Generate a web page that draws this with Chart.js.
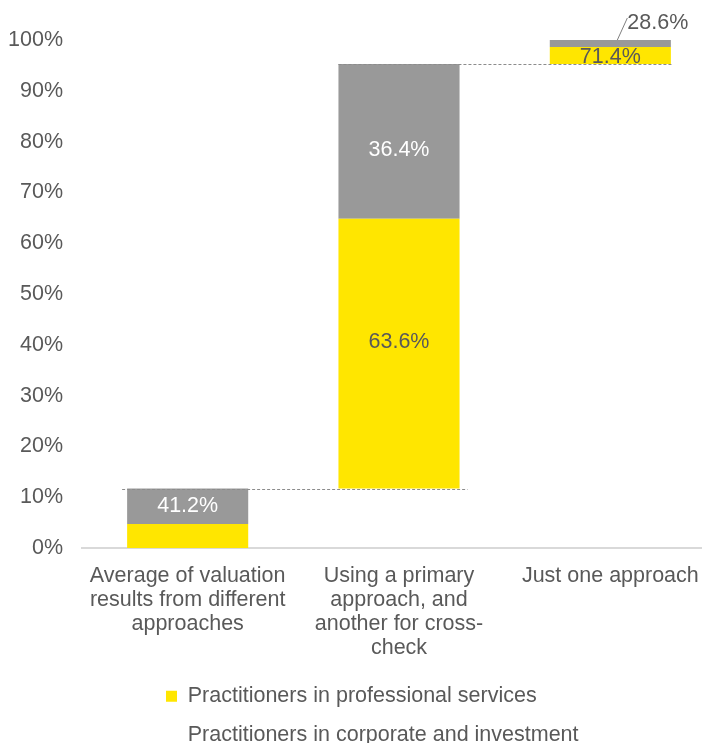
<!DOCTYPE html>
<html>
<head>
<meta charset="utf-8">
<script src="https://cdn.jsdelivr.net/npm/chart.js@4.4.1/dist/chart.umd.min.js"></script>
<style>
  html, body { margin: 0; padding: 0; overflow: hidden; background: #fff; }
  #wrap { width: 716px; height: 756px; }
</style>
</head>
<body>
<div id="wrap"><canvas id="chart"></canvas></div>
<script>
const categories = [
  ["Average of valuation", "results from different", "approaches"],
  ["Using a primary", "approach, and", "another for cross-", "check"],
  ["Just one approach"]
];
const seriesNames = ["Practitioners in professional services", "Practitioners in corporate and investment"];
// floating segments [from, to] in % of the axis
const professionalRanges = [[0, 4.7], [11.7, 64.8], [95.3, 98.6]];
const corporateRanges = [[4.7, 11.7], [64.8, 95.3], [98.6, 100]];
const professionalLabels = ["", "63.6%", "71.4%"];
const corporateLabels = ["41.2%", "36.4%", "28.6%"];
const yMax = 100;
const yStep = 10;

const FONT = '"Liberation Sans", Arial, sans-serif';
const SIZE = 21.5;
const TEXT = "#595959";
const YELLOW = "#FFE600";
const GREY = "#999999";

const connectors = {
  id: "connectors",
  afterDatasetsDraw(chart) {
    const ctx = chart.ctx;
    const bars = chart.getDatasetMeta(1).data;
    const y = chart.scales.y;
    ctx.save();
    ctx.strokeStyle = "#8c8c8c";
    ctx.lineWidth = 1;
    ctx.setLineDash([3, 2]);
    for (let i = 0; i < bars.length - 1; i++) {
      const a = bars[i], b = bars[i + 1];
      const py = Math.round(y.getPixelForValue(corporateRanges[i][1])) + 0.5;
      ctx.beginPath();
      ctx.moveTo(a.x - a.width / 2 - (i === 0 ? 5 : 0), py);
      ctx.lineTo(b.x + b.width / 2 + (i === 0 ? 8 : 2), py);
      ctx.stroke();
    }
    ctx.restore();
  }
};

const segLabels = {
  id: "segLabels",
  afterDatasetsDraw(chart) {
    const ctx = chart.ctx;
    ctx.save();
    ctx.font = SIZE + "px " + FONT;
    ctx.textAlign = "center";
    ctx.textBaseline = "middle";
    chart.getDatasetMeta(0).data.forEach((el, i) => {
      if (!professionalLabels[i]) return;
      const nudge = i === 1 ? -12 : 2;
      ctx.fillStyle = TEXT;
      ctx.fillText(professionalLabels[i], el.x, (el.y + el.base) / 2 + nudge);
    });
    chart.getDatasetMeta(1).data.forEach((el, i) => {
      if (i === 2) {
        // tiny segment: label sits outside with a leader line
        ctx.strokeStyle = "#7f7f7f";
        ctx.lineWidth = 1;
        ctx.beginPath();
        ctx.moveTo(el.x + 7, el.y);
        ctx.lineTo(el.x + 17, el.y - 22);
        ctx.stroke();
        ctx.fillStyle = TEXT;
        ctx.textAlign = "left";
        ctx.fillText(corporateLabels[i], el.x + 17, el.y - 17);
        ctx.textAlign = "center";
      } else {
        const nudge = i === 1 ? 9 : 0;
        ctx.fillStyle = "#ffffff";
        ctx.fillText(corporateLabels[i], el.x, (el.y + el.base) / 2 + nudge);
      }
    });
    ctx.restore();
  }
};

// legend rows start at a fixed left edge, like the original
const legendShift = {
  id: "legendShift",
  afterLayout(chart) {
    chart.legend.left = 166 - chart.legend.options.labels.padding;
  }
};

new Chart(document.getElementById("chart"), {
  type: "bar",
  data: {
    labels: categories,
    datasets: [
      { label: seriesNames[0], data: professionalRanges, backgroundColor: YELLOW },
      { label: seriesNames[1], data: corporateRanges, backgroundColor: GREY }
    ]
  },
  options: {
    responsive: true,
    maintainAspectRatio: false,
    animation: false,
    layout: { padding: { top: 40, left: 0, right: 0, bottom: 0 } },
    datasets: { bar: { categoryPercentage: 1, barPercentage: 0.573, grouped: false } },
    scales: {
      x: {
        stacked: true,
        grid: { display: false },
        border: { color: "#d9d9d9", width: 2 },
        ticks: { color: TEXT, font: { family: FONT, size: SIZE, lineHeight: 24 / SIZE }, padding: 8, maxRotation: 0 }
      },
      y: {
        min: 0,
        max: yMax,
        grid: { display: false },
        border: { display: false },
        ticks: {
          stepSize: yStep,
          color: TEXT,
          font: { family: FONT, size: SIZE },
          padding: 11,
          callback: (v) => v + "%"
        },
        afterFit: (scale) => { scale.width = 82; }
      }
    },
    plugins: {
      tooltip: { enabled: false },
      legend: {
        position: "bottom",
        align: "start",
        labels: {
          color: TEXT,
          font: { family: FONT, size: SIZE },
          boxWidth: 11,
          boxHeight: 11,
          padding: 17.5,
          generateLabels: (chart) => {
            const items = Chart.defaults.plugins.legend.labels.generateLabels(chart);
            items.forEach((it) => { it.lineWidth = 0; });
            items[1].fillStyle = "rgba(0,0,0,0)";
            return items;
          }
        }
      }
    }
  },
  plugins: [connectors, segLabels, legendShift]
});
</script>
</body>
</html>
